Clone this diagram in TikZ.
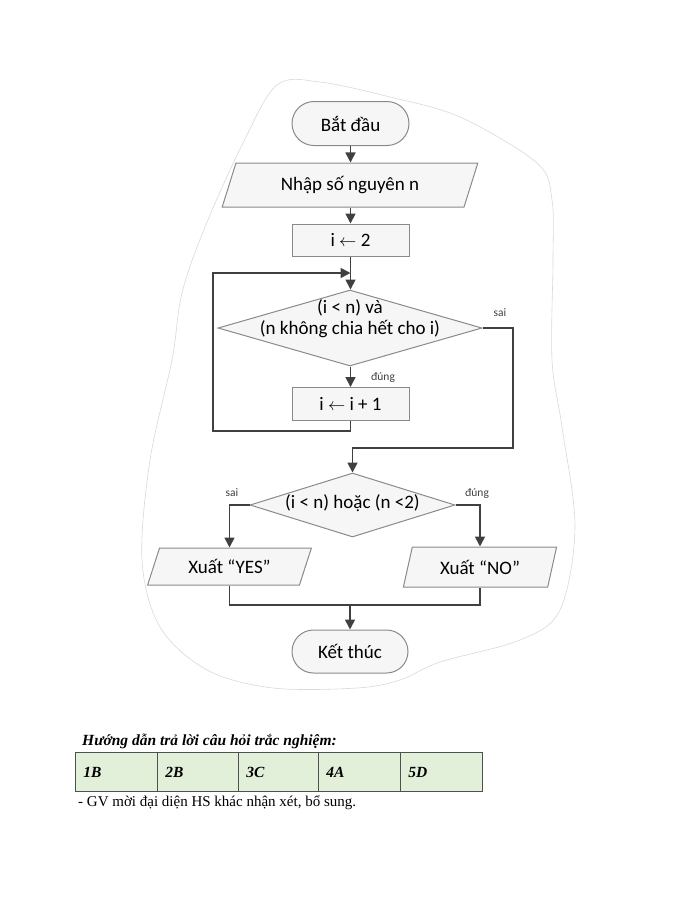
\documentclass[tikz,border=0pt]{standalone}
\usepackage{fontspec}
\setmainfont{Liberation Serif}
\newfontfamily\flowfont{Carlito}
\usetikzlibrary{shapes.geometric,shapes.misc,arrows.meta}
\definecolor{lc}{HTML}{404040}
\definecolor{sb}{HTML}{8A8A8A}
\definecolor{sf}{HTML}{F6F6F6}
\definecolor{tf}{HTML}{E2EFD9}
\definecolor{tb}{HTML}{505050}
\tikzset{
  box/.style={draw=sb, line width=1pt, fill=sf, inner sep=0pt, font=\flowfont\fontsize{19}{22}\selectfont, align=center},
  term/.style={box, rounded rectangle, minimum width=117pt, minimum height=44pt},
  proc/.style={box, rectangle, minimum width=117pt, minimum height=32pt},
  para/.style={box, trapezium, trapezium stretches=true},
  dec/.style={box, diamond},
  dtext/.style={font=\flowfont\fontsize{19}{21}\selectfont, align=center, inner sep=0pt},
  conn/.style={draw=lc, line width=1.7pt},
  arr/.style={conn, -{Triangle[length=10pt,width=10pt]}},
  lbl/.style={font=\flowfont\fontsize{11.5}{13}\selectfont, text=lc},
  cell/.style={draw=tb, line width=0.8pt, fill=tf, minimum height=39pt, inner xsep=8pt, inner ysep=0pt, text height=11pt, text depth=0pt, align=left, font=\bfseries\itshape\fontsize{15.5}{18}\selectfont, anchor=north west}
}
\begin{document}
\begin{tikzpicture}[x=1pt,y=-1pt]
\useasboundingbox (0,0) rectangle (700,906);
% background blob
\draw[gray!30, line width=0.6pt] plot[smooth cycle, tension=0.55] coordinates {
 (277,85) (320,82) (390,97) (460,117) (537,163) (552,200) (553,260) (552,360)
 (562,427) (575,527) (560,610) (520,640) (440,662) (400,680) (357,688) (273,688)
 (207,670) (160,627) (142,560) (150,460) (172,360) (182,293) (205,227) (243,143)};
% nodes
\node[term] (start) at (350.5,123.5) {Bắt đầu};
\node[para, trapezium left angle=64.5, trapezium right angle=115.5, minimum width=256pt, minimum height=44pt] (input) at (350,185) {Nhập số nguyên n};
\node[proc] (init) at (350.5,240) {i $\leftarrow$ 2};
\node[dec, minimum width=264pt, minimum height=76pt] (cond1) at (350,328) {};
\node[dtext] (c1text) at (350,319) {(i < n) và\\(n không chia hết cho i)};
\node[proc, minimum height=33pt] (inc) at (350.5,404) {i $\leftarrow$ i + 1};
\node[dec, minimum width=205pt, minimum height=64pt] (cond2) at (352.5,505) {};
\node[dtext] (c2text) at (352.5,503) {(i < n) hoặc (n <2)};
\node[para, trapezium left angle=64, trapezium right angle=116, minimum width=165pt, minimum height=37pt] (yes) at (229.5,566.5) {Xuất “YES”};
\node[para, trapezium left angle=70, trapezium right angle=110, minimum width=154pt, minimum height=40pt] (no) at (480,567) {Xuất “NO”};
\node[term, minimum width=116pt, minimum height=43pt] (end) at (350,651.5) {Kết thúc};
% helper coordinates
\coordinate (lb) at (213,431);
\coordinate (lt) at (213,273);
\coordinate (lj) at (350.5,273);
\coordinate (rc) at (513,448);
\coordinate (rj) at (352.5,448);
\coordinate (mj) at (350,605);
% connectors
\draw[arr] (start.south) -- (input.north -| start.south);
\draw[arr] (input.south -| init.north) -- (init.north);
\draw[arr] (init.south) -- (init.south |- cond1.north);
\draw[arr] (inc.south) |- (lb) -- (lt) -- (lj);
\draw[arr] (cond1.south -| inc.north) -- (inc.north);
\draw[arr] (cond1.east) -| (rc) -- (rj) -- (cond2.north);
\draw[arr] (cond2.west) -| (yes.north);
\draw[arr] (cond2.east) -| (no.north);
\draw[conn] (yes.south) |- (mj) -| (no.south);
\draw[arr] (mj) -- (end.north);
% branch labels
\node[lbl] (l1) at (500,313) {sai};
\node[lbl] (l2) at (383,377) {đúng};
\node[lbl] (l3) at (232,493) {sai};
\node[lbl] (l4) at (477,493) {đúng};
% text below
\node[anchor=base west, inner sep=0pt, font=\bfseries\itshape\fontsize{15.5}{18}\selectfont] (title) at (82,745) {Hướng dẫn trả lời câu hỏi trắc nghiệm:};
\node[cell, minimum width=82pt, text width=66pt] (c1) at (75,752) {1B};
\node[cell, minimum width=81pt, text width=65pt] (c2) at (157,752) {2B};
\node[cell, minimum width=80pt, text width=64pt] (c3) at (238,752) {3C};
\node[cell, minimum width=82pt, text width=66pt] (c4) at (318,752) {4A};
\node[cell, minimum width=82pt, text width=66pt] (c5) at (400,752) {5D};
\node[anchor=base west, inner sep=0pt, font=\fontsize{15}{18}\selectfont] (note) at (78,806) {- GV mời đại diện HS khác nhận xét, bổ sung.};
\end{tikzpicture}
\end{document}
